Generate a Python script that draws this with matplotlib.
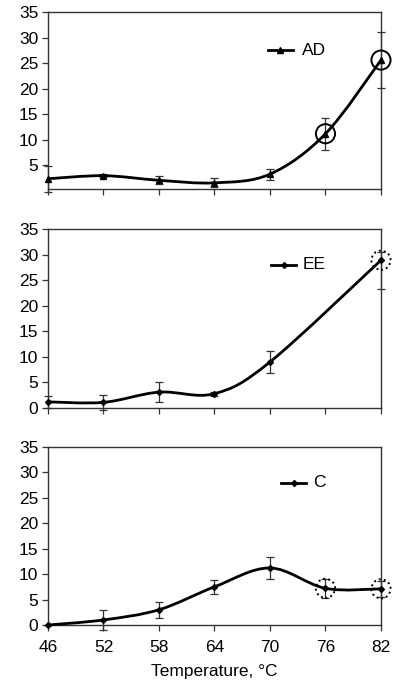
import numpy as np
import matplotlib
matplotlib.use("Agg")
import matplotlib.pyplot as plt
from matplotlib.path import Path
from matplotlib.patches import PathPatch

plt.rcParams["font.family"] = ["Liberation Sans", "DejaVu Sans"]

temps = [46, 52, 58, 64, 70, 76, 82]

ad_val = [2.4, 3.0, 2.1, 1.6, 3.3, 11.2, 25.6]
ad_err = [2.5, 0.3, 0.8, 0.9, 1.1, 3.1, 5.5]
ad_circ = [76, 82]

ee_val = [1.2, 1.1, 3.1, 2.8, 9.0, 28.9]
ee_lo = [1.2, 1.4, 1.9, 0.4, 2.1, 5.7]
ee_hi = [1.2, 1.4, 1.9, 0.4, 2.1, 1.7]
ee_temps = [46, 52, 58, 64, 70, 82]
ee_circ = [82]

c_val = [0.0, 1.0, 3.0, 7.5, 11.2, 7.2, 7.1]
c_err = [0.0, 2.0, 1.55, 1.4, 2.25, 1.8, 1.55]
c_circ = [76, 82]

FS = 12.5


def smooth_path(xs, ys):
    # Excel-style smoothed line: cubic Bezier with Catmull-Rom handles (1/6)
    pts = np.column_stack([xs, ys]).astype(float)
    n = len(pts)
    verts = [pts[0]]
    codes = [Path.MOVETO]
    for i in range(n - 1):
        p0 = pts[i - 1] if i > 0 else pts[i]
        p1, p2 = pts[i], pts[i + 1]
        p3 = pts[i + 2] if i + 2 < n else pts[i + 1]
        verts += [p1 + (p2 - p0) / 6, p2 - (p3 - p1) / 6, p2]
        codes += [Path.CURVE4] * 3
    return Path(verts, codes)


def panel(ax, xs, ys, yerr, marker, ms, label, circ, dotted, ymin, yticks, leg_xy):
    ax.add_patch(PathPatch(smooth_path(xs, ys), fc="none", ec="black", lw=2.0,
                           clip_on=False, zorder=3))
    ax.errorbar(xs, ys, yerr=yerr, fmt="none", ecolor="#333333", elinewidth=0.9,
                capsize=2.8, capthick=0.9, clip_on=False, zorder=2)
    ax.plot(xs, ys, ls="none", marker=marker, ms=ms, color="black",
            clip_on=False, zorder=4)
    cy = [ys[xs.index(t)] for t in circ]
    ax.scatter(circ, cy, s=190, facecolors="none", edgecolors="black",
               linewidths=1.4, linestyles=(0, (1, 1.6)) if dotted else "-",
               clip_on=False, zorder=5)
    # legend
    lx, ly, tx = leg_xy
    ax.plot([lx, lx + 0.075], [ly, ly], transform=ax.transAxes, color="black", lw=2)
    ax.plot([lx + 0.0375], [ly], transform=ax.transAxes, marker=marker, ms=ms,
            color="black", ls="none")
    ax.text(tx, ly, label, transform=ax.transAxes, va="center",
            ha="left", fontsize=FS)
    ax.set_xlim(46, 82)
    ax.set_ylim(ymin, 35)
    ax.set_yticks(yticks)
    ax.set_xticks(temps)
    for s in ax.spines.values():
        s.set_linewidth(1.0)
        s.set_color("#333333")
    ax.tick_params(direction="out", length=4, width=0.9, color="#333333",
                   labelsize=FS, pad=3)


fig = plt.figure(figsize=(3.96, 6.81), dpi=100)
L, W = 0.1212, 0.8409
ax1 = fig.add_axes([L, 0.7225, W, 0.2599])
ax2 = fig.add_axes([L, 0.4009, W, 0.2628])
ax3 = fig.add_axes([L, 0.0822, W, 0.2618])

panel(ax1, temps, ad_val, ad_err, "^", 4, "AD", ad_circ, False,
      0.4, [5, 10, 15, 20, 25, 30, 35], (0.66, 0.785, 0.763))
panel(ax2, ee_temps, ee_val, [ee_lo, ee_hi], "D", 3, "EE", ee_circ, True,
      0, [0, 5, 10, 15, 20, 25, 30, 35], (0.67, 0.80, 0.766))
panel(ax3, temps, c_val, c_err, "D", 3, "C", c_circ, True,
      0, [0, 5, 10, 15, 20, 25, 30, 35], (0.70, 0.798, 0.795))

ax1.set_xticklabels([])
ax2.set_xticklabels([])
ax3.tick_params(axis="x", pad=7)

fig.text(0.5417, 0.007, "Temperature, °C", ha="center", va="baseline", fontsize=FS)

fig.savefig("out.png", dpi=100)
